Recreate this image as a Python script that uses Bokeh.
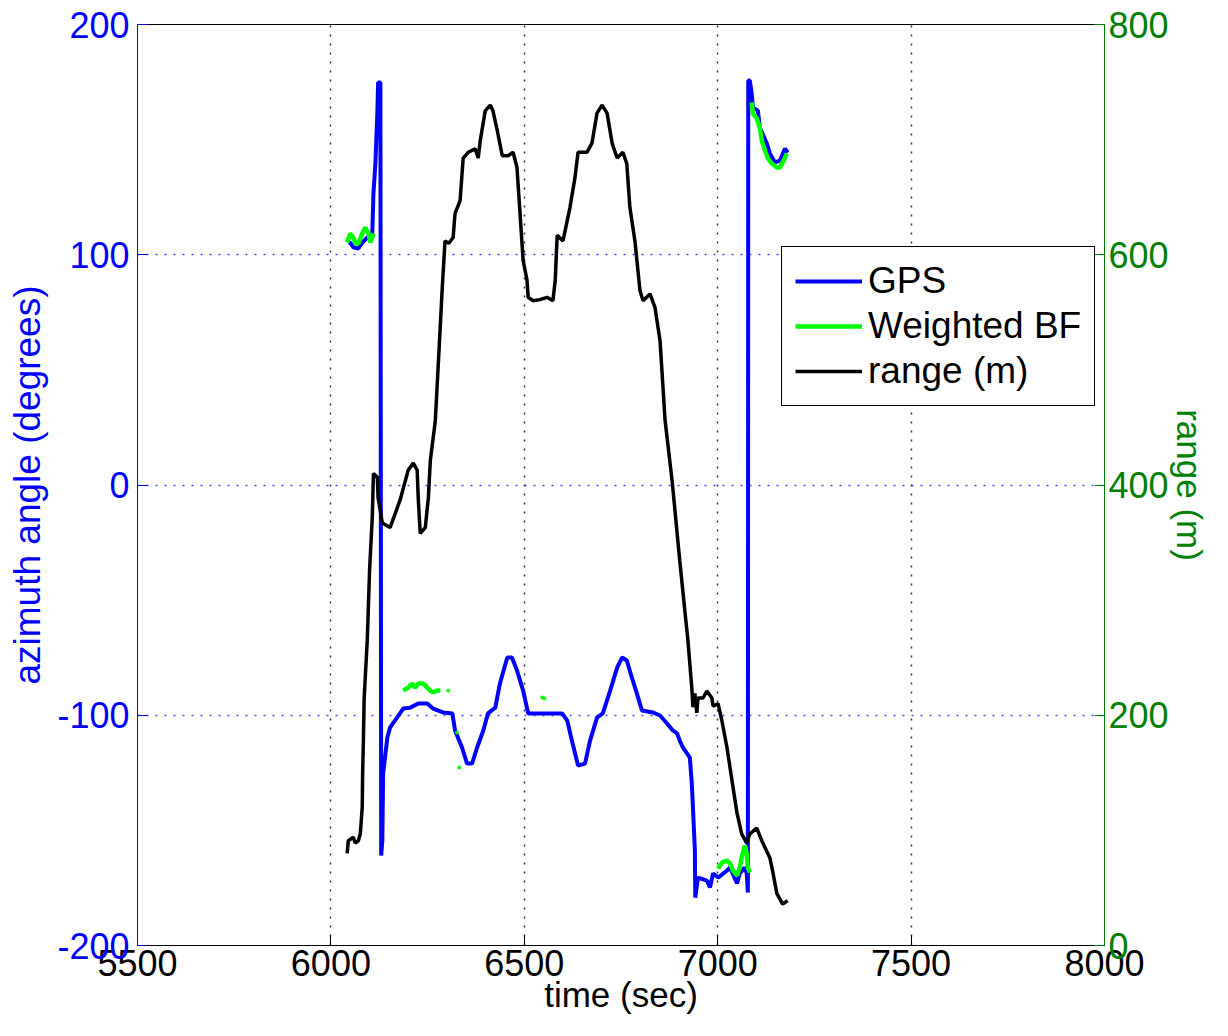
import numpy as np
from bokeh.plotting import figure
from bokeh.models import Range1d, LinearAxis, FixedTicker, Legend, LegendItem
from bokeh.embed import file_html
from bokeh.resources import INLINE

nan = np.nan

# ---------------- data ----------------
x_ticks = [5500, 6000, 6500, 7000, 7500, 8000]
az_ticks = [-200, -100, 0, 100, 200]
range_ticks = [0, 200, 400, 600, 800]

time_gps = [6045, 6050, 6058, 6071, 6081, 6094, 6107, 6110, 6115, 6120, 6122, 6128,
            6130, 6133, 6135, 6146, 6153, 6171, 6187, 6205, 6226, 6249, 6264, 6290,
            6314, 6321, 6339, 6352, 6365, 6378, 6394, 6406, 6425, 6437, 6456, 6468,
            6481, 6497, 6510, 6541, 6598, 6611, 6623, 6639, 6657, 6670, 6688, 6703,
            6722, 6740, 6753, 6765, 6778, 6791, 6804, 6833, 6851, 6869, 6884, 6895,
            6902, 6910, 6928, 6933, 6936, 6941, 6942, 6949, 6972, 6980, 6988, 7001,
            7024, 7032, 7050, 7057, 7070, 7075, 7078, 7079, 7083, 7088, 7091, 7104,
            7109, 7127, 7135, 7148, 7161, 7174, 7181]
az_gps = [105.3, 105.3, 103.2, 102.7, 105.3, 107.5, 109.2, 126.6, 139.6, 161.3, 174.8, 174.8,
          -160.9, -154.4, -125.3, -109.7, -105.3, -101.0, -97.1, -96.7, -94.9, -94.9, -97.1, -98.8,
          -99.2, -106.6, -114.0, -121.0, -121.0, -114.0, -106.6, -99.2, -96.7, -86.2, -74.9, -74.9,
          -80.5, -89.3, -99.2, -99.2, -99.2, -102.3, -111.0, -121.8, -121.0, -111.0, -101.0, -99.2,
          -89.3, -79.3, -74.9, -76.2, -83.6, -90.5, -97.9, -98.8, -100.1, -103.6, -106.6, -107.9,
          -111.0, -114.0, -118.4, -129.6, -140.1, -158.7, -179.2, -170.5, -171.8, -174.8, -168.7, -170.5,
          -167.4, -166.1, -173.1, -168.7, -166.1, -168.7, -177.0, 175.7, 175.7, 170.0, 164.0, 162.6,
          155.3, 148.3, 144.0, 140.1, 140.9, 146.1, 144.4]

time_bf = [6042, 6050, 6058, 6063, 6071, 6081, 6089, 6097, 6102, 6110, nan,
           6187, 6200, 6210, 6218, 6226, 6239, 6249, 6257, 6264, 6275, 6283, nan,
           7001, 7011, 7024, 7032, 7039, 7050, 7057, 7062, 7070, 7075, 7078, 7083, nan,
           7088, 7091, 7101, 7109, 7114, 7122, 7130, 7140, 7153, 7161, 7168, 7179]
az_bf = [105.3, 109.2, 107.5, 104.9, 104.9, 109.2, 111.8, 109.2, 105.3, 109.2, nan,
         -89.3, -88.0, -86.2, -88.0, -86.2, -86.2, -88.0, -89.3, -90.1, -89.3, -89.3, nan,
         -166.6, -164.0, -163.1, -164.4, -167.4, -169.6, -166.1, -161.8, -156.6, -160.0, -166.1, -168.3, nan,
         166.1, 161.3, 159.2, 155.3, 149.6, 145.3, 141.8, 139.6, 137.9, 137.9, 140.1, 144.0]
time_bf_dots = [6303, 6326, 6332, 6546, 6552]
az_bf_dots = [-89.3, -107.5, -122.7, -92.3, -92.7]

time_range = [6042, 6045, 6058, 6063, 6071, 6076, 6081, 6082, 6084, 6086, 6094, 6100,
              6107, 6110, 6120, 6122, 6133, 6153, 6179, 6200, 6213, 6223, 6226, 6231,
              6244, 6252, 6257, 6270, 6280, 6288, 6295, 6305, 6316, 6321, 6334, 6342,
              6355, 6373, 6381, 6386, 6399, 6412, 6419, 6430, 6443, 6458, 6471, 6481,
              6489, 6497, 6507, 6510, 6523, 6540, 6559, 6574, 6580, 6585, 6600, 6618,
              6631, 6639, 6662, 6675, 6688, 6701, 6714, 6727, 6740, 6755, 6765, 6773,
              6786, 6799, 6807, 6825, 6838, 6851, 6864, 6882, 6902, 6915, 6923, 6933,
              6936, 6941, 6946, 6949, 6962, 6972, 6985, 6988, 7001, 7011, 7024, 7037,
              7050, 7062, 7075, 7083, 7101, 7114, 7135, 7143, 7153, 7168, 7181]
range_m = [80, 91, 94, 89, 91, 97, 120, 149, 178, 215, 265, 326,
           372, 410, 407, 389, 367, 363, 387, 413, 419, 413, 387, 358,
           363, 389, 421, 456, 520, 572, 612, 610, 615, 636, 647, 684,
           689, 692, 684, 699, 725, 730, 725, 708, 686, 686, 689, 676,
           636, 595, 578, 563, 560, 561, 563, 560, 578, 617, 612, 641,
           667, 689, 689, 697, 723, 730, 723, 697, 684, 689, 679, 641,
           612, 569, 560, 566, 554, 525, 456, 404, 334, 291, 265, 224,
           207, 219, 202, 215, 215, 221, 215, 208, 210, 195, 172, 143,
           115, 97, 89, 97, 102, 91, 76, 63, 45, 36, 39]

# ---------------- figure ----------------
FONT = "Liberation Sans"
BLUE = "#0000FF"
GREEN = "#00FF00"
DKGREEN = "#008000"

W, H = 1212, 1020
FL, FR, FT, FB = 137, 1104, 24, 945   # frame edges on the canvas

p = figure(width=W, height=H, output_backend="svg", toolbar_location=None,
           x_range=Range1d(5500, 8000), y_range=Range1d(-200, 200),
           min_border_left=FL, min_border_right=W - FR,
           min_border_top=FT, min_border_bottom=H - FB)
p.background_fill_color = "white"
p.border_fill_color = "white"
p.outline_line_color = "black"
p.outline_line_width = 1

p.extra_y_ranges = {"rng": Range1d(0, 800)}
raxis = LinearAxis(y_range_name="rng", axis_label="range (m)",
                   ticker=FixedTicker(ticks=range_ticks))
p.add_layout(raxis, "right")

p.xaxis.ticker = FixedTicker(ticks=x_ticks)
p.xaxis.axis_label = "time (sec)"
p.yaxis[0].ticker = FixedTicker(ticks=az_ticks)
p.yaxis[0].axis_label = "azimuth angle (degrees)"
p.yaxis[0].major_label_overrides = {t: str(t) for t in az_ticks}


def style_axis(ax, color, std, lab_std, lab_size="37px"):
    ax.axis_line_color = color
    ax.axis_line_width = 1
    ax.major_tick_line_color = color
    ax.major_tick_in = 10
    ax.major_tick_out = 0
    ax.minor_tick_line_color = None
    ax.major_label_text_color = color
    ax.major_label_text_font = FONT
    ax.major_label_text_font_size = "36px"
    ax.major_label_standoff = std
    ax.axis_label_text_color = color
    ax.axis_label_text_font = FONT
    ax.axis_label_text_font_size = lab_size
    ax.axis_label_text_font_style = "normal"
    ax.axis_label_standoff = lab_std


style_axis(p.xaxis[0], "black", 4, -4, "35px")
style_axis(p.yaxis[0], BLUE, 8, 6, "37px")
style_axis(raxis, DKGREEN, 4, -2, "35px")

p.xgrid.grid_line_color = "black"
p.xgrid.grid_line_dash = "2 7"
p.xgrid.grid_line_width = 1.5
p.xgrid.grid_line_alpha = 0.8
p.ygrid.grid_line_color = BLUE
p.ygrid.grid_line_dash = "2 7"
p.ygrid.grid_line_width = 1.5
p.ygrid.grid_line_alpha = 0.7

r_gps = p.line(np.array(time_gps, dtype=float), np.array(az_gps, dtype=float),
               line_color=BLUE, line_width=4)
r_bf = p.line(np.array(time_bf, dtype=float), np.array(az_bf, dtype=float),
              line_color=GREEN, line_width=4.5)
p.scatter(np.array(time_bf_dots, dtype=float), np.array(az_bf_dots, dtype=float),
          size=3, color=GREEN)
r_rng = p.line(np.array(time_range, dtype=float), np.array(range_m, dtype=float),
               line_color="black", line_width=3.5, y_range_name="rng")

legend = Legend(items=[LegendItem(label="GPS", renderers=[r_gps]),
                       LegendItem(label="Weighted BF", renderers=[r_bf]),
                       LegendItem(label="range (m)", renderers=[r_rng])],
                location=(781 - FL, FB - 406), margin=0,
                border_line_color="black", border_line_width=1, border_line_alpha=1,
                background_fill_color="white", background_fill_alpha=1,
                label_text_font=FONT, label_text_font_size="37px", label_text_color="black",
                glyph_width=67, glyph_height=40, label_height=40,
                spacing=3, padding=13, label_standoff=6)
p.add_layout(legend)

open("out.html", "w").write(file_html(p, INLINE))
